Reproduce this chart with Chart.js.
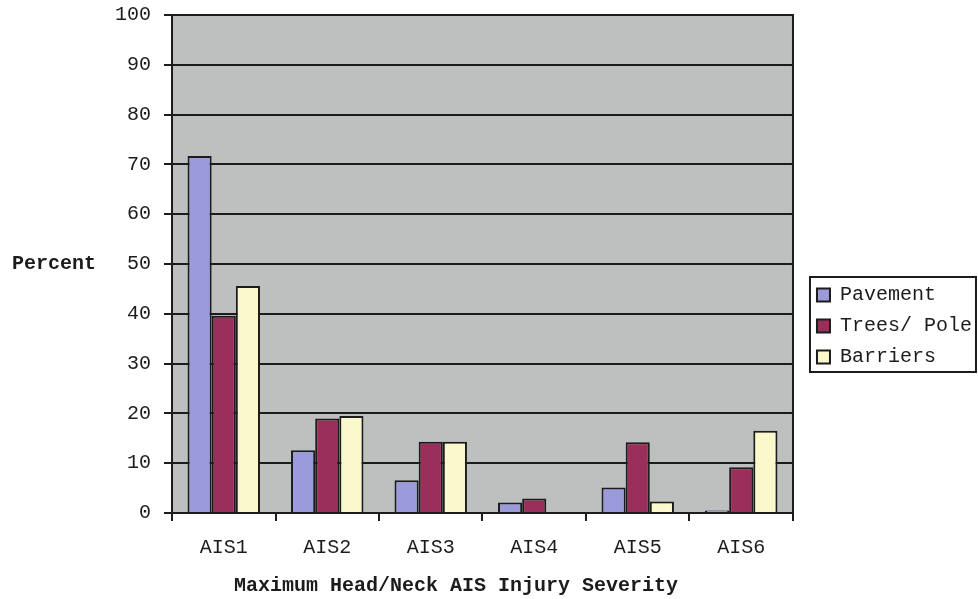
<!DOCTYPE html>
<html>
<head>
<meta charset="utf-8">
<style>
  html, body { margin: 0; padding: 0; background: #ffffff; }
  #wrap { width: 978px; height: 599px; }
</style>
<script src="https://cdn.jsdelivr.net/npm/chart.js@4"></script>
</head>
<body>
<div id="wrap"><canvas id="chart" width="978" height="599"></canvas></div>
<script>
// Share of head/neck injuries by maximum AIS severity, per impact object
const categories = ['AIS1', 'AIS2', 'AIS3', 'AIS4', 'AIS5', 'AIS6'];
const pavement   = [71.7, 12.6, 6.6, 2.1, 5.1, 0.5];
const treesPole  = [39.6, 19.0, 14.3, 2.9, 14.2, 9.2];
const barriers   = [45.6, 19.5, 14.3, 0, 2.3, 16.5];
const seriesNames = ['Pavement', 'Trees/ Pole', 'Barriers'];
const yMin = 0, yMax = 100, yStep = 10;
const yAxisLabel = 'Percent';
const xAxisLabel = 'Maximum Head/Neck AIS Injury Severity';

const MONO = '"Liberation Mono", "Courier New", monospace';
const INK = '#1c1c1c';

// Gray plot panel, its frame, the legend frame and the two axis captions
const decorations = {
  id: 'decorations',
  afterLayout(chart) {
    const lg = chart.legend;
    const dx = 13, top = 274;
    const h = lg.bottom - lg.top;
    lg.left += dx; lg.right += dx;
    lg.top = top; lg.bottom = top + h;
  },
  beforeDraw(chart) {
    const {ctx, chartArea: a} = chart;
    ctx.save();
    ctx.fillStyle = '#bdc0bf';
    ctx.fillRect(a.left, a.top, a.right - a.left, a.bottom - a.top);
    ctx.restore();
  },
  afterDraw(chart) {
    const {ctx, chartArea: a} = chart;
    const lg = chart.legend;
    ctx.save();
    ctx.strokeStyle = INK;
    ctx.lineWidth = 2;
    ctx.strokeRect(a.left, a.top, a.right - a.left, a.bottom - a.top);
    // legend frame
    ctx.strokeRect(lg.left + 4, lg.top + 3, 166, 95);
    // axis captions
    ctx.fillStyle = INK;
    ctx.font = 'bold 20px ' + MONO;
    ctx.textBaseline = 'middle';
    ctx.textAlign = 'left';
    ctx.fillText(yAxisLabel, 12, (a.top + a.bottom) / 2);
    ctx.textAlign = 'center';
    ctx.fillText(xAxisLabel, 456, 586);
    ctx.restore();
  }
};

const colors = ['#9b9bdb', '#9a2f5b', '#fbf8cc'];
const values = [pavement, treesPole, barriers];

new Chart(document.getElementById('chart'), {
  type: 'bar',
  data: {
    labels: categories,
    datasets: seriesNames.map((name, i) => ({
      label: name,
      data: values[i],
      backgroundColor: colors[i],
      borderColor: INK,
      borderWidth: 2,
      borderSkipped: 'bottom',
      barPercentage: 1.0,
      categoryPercentage: 0.70
    }))
  },
  options: {
    responsive: false,
    animation: false,
    devicePixelRatio: 1,
    layout: { padding: { left: 102, top: 15, right: 9, bottom: 24 } },
    plugins: {
      tooltip: { enabled: false },
      title: { display: false },
      legend: {
        position: 'right',
        align: 'start',
        labels: {
          color: INK,
          font: { family: MONO, size: 20 },
          boxWidth: 13,
          boxHeight: 13,
          padding: 11
        }
      }
    },
    scales: {
      x: {
        offset: true,
        grid: {
          offset: true,
          drawOnChartArea: false,
          drawTicks: true,
          tickLength: 8,
          color: INK,
          lineWidth: 2
        },
        border: { display: true, color: INK, width: 2 },
        ticks: {
          color: INK,
          font: { family: MONO, size: 20 },
          padding: 15,
          maxRotation: 0
        }
      },
      y: {
        min: yMin,
        max: yMax,
        afterFit(scale) {
          scale.paddingTop = 0;
          scale.paddingBottom = 0;
        },
        ticks: {
          stepSize: yStep,
          color: INK,
          font: { family: MONO, size: 20 },
          padding: 13
        },
        grid: {
          color: INK,
          lineWidth: 2,
          drawTicks: true,
          tickLength: 8
        },
        border: { display: true, color: INK, width: 2 }
      }
    }
  },
  plugins: [decorations]
});
</script>
</body>
</html>
